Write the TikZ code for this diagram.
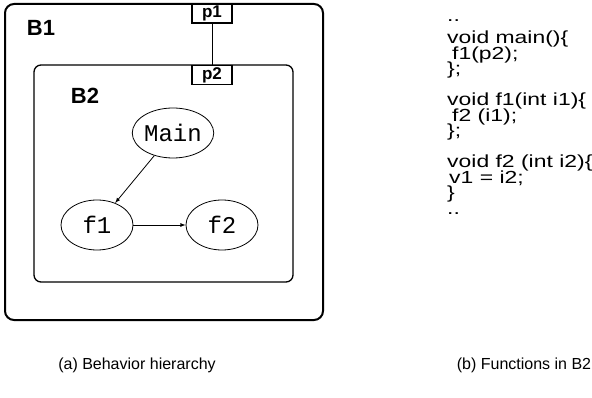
\documentclass[tikz,border=0pt]{standalone}
\usepackage{fontspec}
\setmainfont{Liberation Sans}
\setmonofont{Liberation Mono}
\newfontfamily\codefont[FakeStretch=1.31]{Liberation Sans}
\newcommand\codesetup{\codefont\fontsize{17.5}{15.5}\selectfont\setlength{\lineskiplimit}{-100pt}}
\usepackage{tikz}
\usetikzlibrary{arrows, shapes.geometric, positioning}
\tikzset{>=latex}
\tikzset{
  behav/.style={draw, rounded corners=9pt, inner sep=0pt},
  port/.style={draw, fill=white, line width=1.3pt, minimum width=40pt, minimum height=19pt, inner sep=0pt, font=\fontsize{17}{17}\selectfont\bfseries},
  func/.style={draw, ellipse, line width=0.8pt, minimum width=75pt, minimum height=50pt, inner sep=0pt, font=\fontsize{24}{24}\selectfont\ttfamily},
  blabel/.style={font=\fontsize{22}{22}\selectfont\bfseries},
  caption/.style={font=\fontsize{16}{16}\selectfont}
}

\begin{document}
\begin{tikzpicture}[x=1pt, y=-1pt]
\useasboundingbox (0,0) rectangle (592,398);
% behaviors
\node[behav, line width=2pt, minimum width=318pt, minimum height=316pt] (b1) at (164,162) {};
\node[behav, line width=1.3pt, rounded corners=7pt, minimum width=259pt, minimum height=217pt] (b2) at (163.5,173.5) {};
\node[blabel] (b1lab) at (41,28) {B1};
\node[blabel] (b2lab) at (85,96) {B2};
% ports
\node[port] (p1) at (212,13.5) {p1};
\node[port] (p2) at (212,75) {p2};
\draw[line width=0.8pt] (p1.south) -- (p2.north);
% functions
\node[func] (main) at (173,133) {Main};
\node[func, minimum width=72pt] (f1) at (97,225) {f1};
\node[func, minimum width=72pt] (f2) at (222,225) {f2};
\draw[->, line width=0.8pt] (main) -- (f1);
\draw[->, line width=0.8pt] (f1) -- (f2);
% code
\node[anchor=north west, align=left, inner sep=0pt, font=\codesetup] (code) at (447,19) {..\\[7pt]
void main()\{\\
\hspace{5pt}f1(p2);\\
\};\\[15.5pt]
void f1(int i1)\{\\
\hspace{5pt}f2 (i1);\\
\};\\[15.5pt]
void f2 (int i2)\{\\
\hspace{2pt}v1 = i2;\\
\}\\
..};
% captions
\node[caption] (capa) at (137,365) {(a) Behavior hierarchy};
\node[caption] (capb) at (524,365) {(b) Functions in B2};
\end{tikzpicture}
\end{document}
